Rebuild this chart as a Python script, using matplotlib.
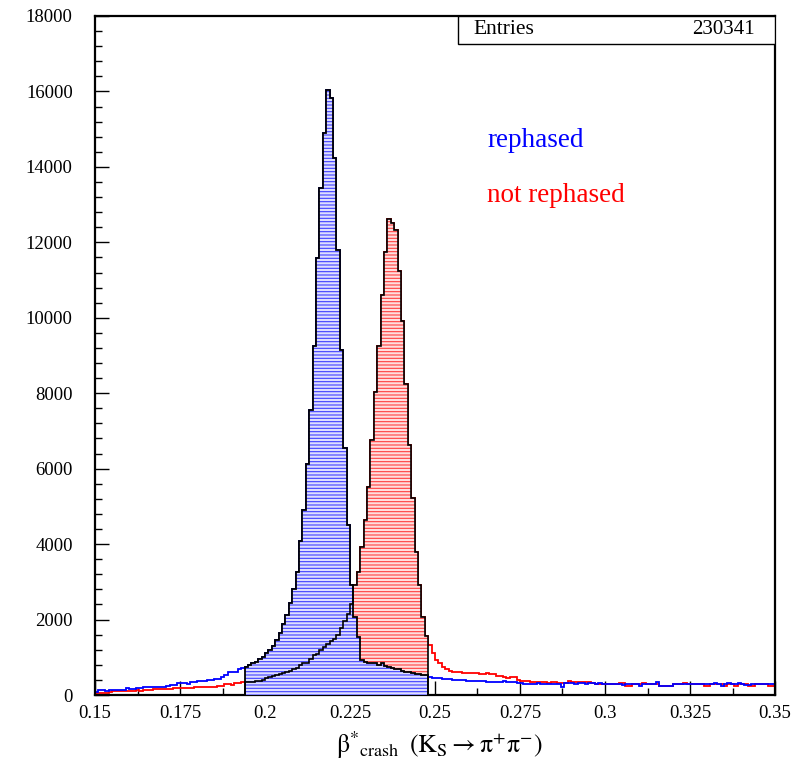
import numpy as np
import matplotlib
matplotlib.use("Agg")
import matplotlib.pyplot as plt
from matplotlib.patches import Rectangle

plt.rcParams['font.family'] = ['Liberation Serif', 'DejaVu Serif']
plt.rcParams['mathtext.fontset'] = 'stix'
plt.rcParams['hatch.linewidth'] = 0.8

## data: 200 bins from 0.15 to 0.35 (width 0.001)

x_lo, x_hi, n_bins = 0.15, 0.35, 200
win_lo, win_hi = 0.194, 0.248   # filled window
entries = 230341

rephased = [
    90, 130, 120, 115, 130, 135, 135, 135, 140, 175,
    150, 155, 175, 180, 220, 220, 225, 220, 225, 220,
    225, 230, 265, 270, 310, 305, 310, 300, 335, 340,
    370, 375, 370, 400, 390, 425, 420, 490, 530, 600,
    600, 600, 700, 720, 751, 796, 840, 884, 947, 1016,
    1106, 1194, 1300, 1459, 1653, 1884, 2122, 2432, 2804, 3271,
    4080, 4906, 6120, 7558, 9241, 11585, 13443, 14902, 16050, 15830,
    14240, 11806, 9153, 6540, 4508, 2916, 2076, 1546, 927, 884,
    860, 845, 840, 800, 850, 780, 740, 707, 700, 690,
    640, 620, 600, 580, 560, 545, 530, 520, 490, 450,
    440, 440, 435, 420, 415, 400, 395, 390, 385, 375,
    370, 372, 365, 368, 375, 345, 340, 345, 340, 338,
    360, 335, 338, 332, 330, 305, 300, 302, 298, 300,
    305, 298, 290, 285, 288, 283, 285, 221, 305, 309,
    305, 300, 309, 305, 300, 309, 305, 300, 305, 300,
    283, 290, 280, 285, 283, 278, 285, 283, 280, 285,
    240, 283, 285, 280, 283, 336, 250, 247, 250, 247,
    283, 285, 280, 283, 285, 283, 280, 285, 283, 280,
    285, 283, 309, 283, 250, 283, 309, 283, 280, 309,
    283, 265, 265, 283, 280, 283, 285, 280, 283, 283,
]

not_rephased = [
    60, 55, 50, 55, 70, 100, 105, 100, 110, 105,
    110, 100, 120, 115, 135, 140, 145, 150, 150, 150,
    150, 155, 170, 175, 180, 180, 175, 180, 180, 200,
    215, 220, 215, 225, 220, 225, 240, 250, 290, 280,
    260, 310, 320, 335, 340, 345, 350, 360, 380, 390,
    450, 470, 500, 540, 560, 580, 610, 640, 690, 720,
    800, 840, 860, 950, 1050, 1100, 1200, 1280, 1350, 1420,
    1480, 1600, 1780, 1950, 2150, 2400, 2916, 3269, 3932, 4640,
    5523, 6760, 8041, 9259, 10612, 11745, 12628, 12514, 12337, 11231,
    9904, 8240, 6630, 5230, 3800, 2916, 2077, 1560, 1325, 1105,
    928, 840, 751, 680, 645, 618, 618, 618, 592, 574,
    574, 574, 574, 557, 557, 574, 548, 548, 512, 512,
    486, 442, 468, 468, 398, 371, 371, 371, 353, 353,
    353, 353, 353, 327, 353, 353, 327, 327, 309, 371,
    353, 353, 336, 336, 336, 336, 327, 283, 283, 283,
    283, 283, 283, 283, 309, 309, 239, 239, 283, 283,
    283, 309, 283, 283, 283, 283, 247, 247, 247, 247,
    283, 283, 283, 327, 283, 283, 283, 283, 283, 239,
    239, 283, 283, 283, 283, 247, 283, 283, 247, 283,
    283, 283, 247, 247, 283, 283, 283, 283, 239, 239,
]

xticks = [0.15, 0.175, 0.2, 0.225, 0.25, 0.275, 0.3, 0.325, 0.35]
xtick_labels = ['0.15', '0.175', '0.2', '0.225', '0.25', '0.275', '0.3', '0.325', '0.35']
yticks = [0, 2000, 4000, 6000, 8000, 10000, 12000, 14000, 16000, 18000]


## plot

edges = np.linspace(x_lo, x_hi, n_bins + 1)
blue = np.array(rephased, dtype=float)
red = np.array(not_rephased, dtype=float)

i0 = int(round((win_lo - x_lo) / (x_hi - x_lo) * n_bins))
i1 = int(round((win_hi - x_lo) / (x_hi - x_lo) * n_bins))
w_edges = edges[i0:i1 + 1]

fig = plt.figure(figsize=(8.03, 7.70), dpi=100)
ax = fig.add_axes([95/803, 75/770, 680/803, 679/770])

# full histograms as coloured lines
ax.stairs(red, edges, color='red', lw=1.3, zorder=2)
ax.stairs(blue, edges, color='blue', lw=1.3, zorder=2)

# filled window: red first, blue on top
ax.stairs(red[i0:i1], w_edges, fill=True, facecolor='#ffdede', edgecolor='#ff4040',
          hatch='-----', lw=0, zorder=3)
ax.stairs(blue[i0:i1], w_edges, fill=True, facecolor='#dedeff', edgecolor='#4040ff',
          hatch='-----', lw=0, zorder=4)
ax.stairs(red[i0:i1], w_edges, color='black', lw=1.2, zorder=5)
ax.stairs(blue[i0:i1], w_edges, color='black', lw=1.3, zorder=6)

ax.set_xlim(x_lo, x_hi)
ax.set_ylim(0, 18000)

ax.set_xticks(xticks)
ax.set_xticklabels(xtick_labels)
ax.set_xticks(np.arange(x_lo + 0.0125, x_hi, 0.025), minor=True)
ax.set_yticks(yticks)
ax.set_yticks(np.arange(0, 18001, 400), minor=True)

ax.tick_params(which='both', direction='in', top=False, right=False, labelsize=13.5, width=1.0)
ax.tick_params(axis='x', which='major', length=10, pad=7)
ax.tick_params(axis='x', which='minor', length=5)
ax.tick_params(axis='y', which='major', length=10, pad=16)
ax.tick_params(axis='y', which='minor', length=5)
for s in ax.spines.values():
    s.set_linewidth(1.6)

ax.set_xlabel(r'$\mathrm{\beta}^{*}{}_{\mathrm{crash}}\;\;(\mathrm{K_{S}} \rightarrow \mathrm{\pi}^{+}\mathrm{\pi}^{-})$',
              fontsize=18.5, va='center')
ax.xaxis.set_label_coords(0.507, -0.074)

ax.text(0.2653, 14690, 'rephased', color='blue', fontsize=19.5, va='center')
ax.text(0.2653, 13230, 'not rephased', color='red', fontsize=19.5, va='center')

# stats box
ax.add_patch(Rectangle((0.534, 0.9588), 0.466, 0.0412, transform=ax.transAxes,
                       facecolor='white', edgecolor='black', lw=1.0, zorder=10))
ax.text(0.556, 0.980, 'Entries', transform=ax.transAxes, fontsize=15.5, va='center', zorder=11)
ax.text(0.9706, 0.980, str(entries), transform=ax.transAxes, fontsize=15, va='center',
        ha='right', zorder=11)

fig.savefig('out.png', dpi=100)
